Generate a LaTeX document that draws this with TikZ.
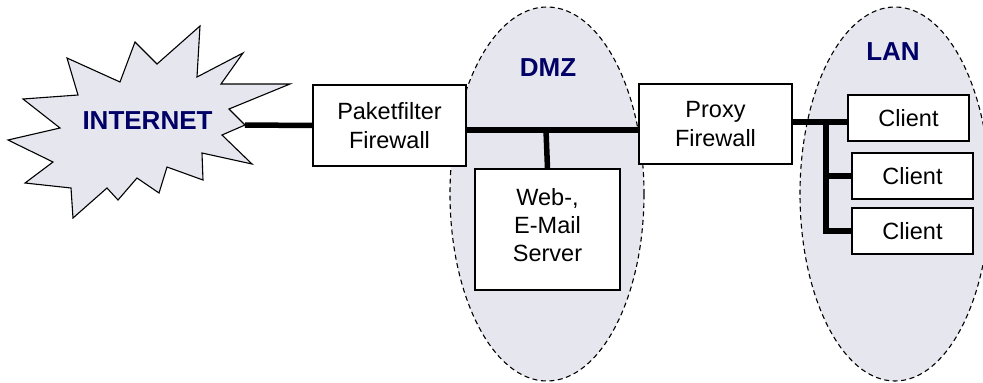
\documentclass[tikz,border=0pt]{standalone}
\usepackage{fontspec}
\setmainfont{Liberation Sans}
\usetikzlibrary{shapes.geometric}
\definecolor{zonefill}{RGB}{230,230,239}
\definecolor{zonetext}{RGB}{0,0,102}
\tikzset{
  zone/.style={ellipse, draw=black, dashed, dash pattern=on 5pt off 3.5pt,
    line width=1.1pt, fill=zonefill, inner sep=0pt},
  zonelabel/.style={text=zonetext, font=\bfseries\fontsize{26}{30}\selectfont, inner sep=0pt},
  unitbox/.style={draw=black, line width=1.2pt, fill=white, align=center,
    inner sep=0pt, font=\fontsize{23.5}{28.5}\selectfont},
  wire/.style={line width=5.5pt, line join=miter}
}
\begin{document}
\begin{tikzpicture}[x=1pt, y=-1pt]
\useasboundingbox (0,0) rectangle (983,383);

% security zones
\node[zone, minimum width=194pt, minimum height=374pt] (dmz) at (547,194) {};
\node[zone, minimum width=190pt, minimum height=374pt] (lan) at (895,194) {};
\node[zonelabel] (dmzlabel) at (548,68) {DMZ};
\node[zonelabel] (lanlabel) at (893,52) {LAN};

% internet starburst
\draw[line width=1.1pt, fill=zonefill, line join=miter]
  (200,26) -- (197,77) -- (243,53) -- (221,84) -- (290,84) -- (229,109)
  -- (245,125) -- (222,135) -- (252,164) -- (202,153) -- (203,180)
  -- (167,167) -- (159,193) -- (137,178) -- (118,200) -- (107,188)
  -- (73,218) -- (71,188) -- (25,183) -- (53,162) -- (8,140) -- (60,128)
  -- (23,99) -- (78,95) -- (67,58) -- (120,82) -- (135,42) -- (157,64)
  -- cycle;
\node[zonelabel] (inet) at (147.5,121) {INTERNET};
\coordinate (inettip) at (245,125);

% devices
\node[unitbox, minimum width=153pt, minimum height=81pt] (pf) at (389.5,125.5)
  {Paketfilter\\Firewall};
\node[unitbox, minimum width=153pt, minimum height=80pt] (proxy) at (715.5,124)
  {Proxy\\Firewall};
\node[unitbox, minimum width=145pt, minimum height=121pt] (web) at (547.5,229.5) {};
\node[align=center, inner sep=0pt, font=\fontsize{23.5}{28}\selectfont]
  (webtext) at (547.5,225) {Web-,\\E-Mail\\Server};
\node[unitbox, minimum width=121pt, minimum height=46pt] (c1) at (908.5,118) {Client};
\node[unitbox, minimum width=121pt, minimum height=46pt] (c2) at (912.5,176) {Client};
\node[unitbox, minimum width=121pt, minimum height=46pt] (c3) at (912.5,231) {Client};

% network cabling
\coordinate (dmzbus) at (546,130);
\coordinate (lanbus) at (826,122);
\draw[wire] (inettip) -- (pf.west);
\draw[wire] (pf.east |- dmzbus) -- (proxy.west |- dmzbus);
\draw[wire] (dmzbus) -- (web.north);
\draw[wire] (proxy.east |- lanbus) -- (c1.west |- lanbus);
\draw[wire] (lanbus) |- (c3.west);
\draw[wire] (lanbus |- c2.west) -- (c2.west);
\end{tikzpicture}
\end{document}
